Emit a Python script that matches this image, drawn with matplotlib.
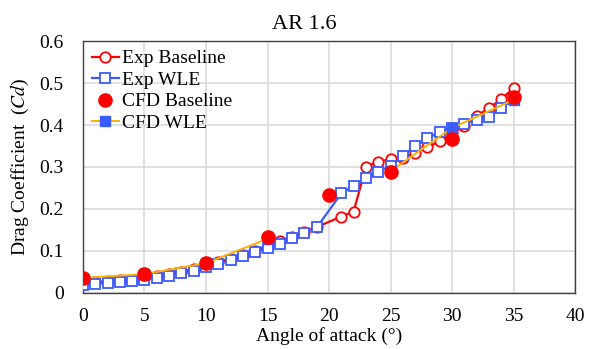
import numpy as np
import matplotlib
matplotlib.use('Agg')
import matplotlib.pyplot as plt
from matplotlib.ticker import FuncFormatter

plt.rcParams['font.family'] = 'Liberation Serif'
plt.rcParams['mathtext.fontset'] = 'stix'

# experimental data (no point at 20 deg)
aoa_exp = [0, 1, 2, 3, 4, 5, 6, 7, 8, 9, 10, 11, 12, 13, 14, 15, 16, 17, 18, 19,
           21, 22, 23, 24, 25, 26, 27, 28, 29, 30, 31, 32, 33, 34, 35]
cd_exp_base = [0.025, 0.026, 0.028, 0.030, 0.032, 0.035, 0.040, 0.046, 0.051, 0.057,
               0.066, 0.074, 0.082, 0.091, 0.101, 0.113, 0.124, 0.134, 0.146, 0.157,
               0.182, 0.194, 0.300, 0.313, 0.318, 0.322, 0.333, 0.347, 0.361, 0.380,
               0.397, 0.422, 0.440, 0.462, 0.487]
cd_exp_wle = [0.020, 0.022, 0.024, 0.026, 0.028, 0.031, 0.036, 0.041, 0.047, 0.053,
              0.061, 0.070, 0.078, 0.087, 0.098, 0.106, 0.117, 0.130, 0.143, 0.156,
              0.237, 0.255, 0.273, 0.289, 0.303, 0.326, 0.350, 0.368, 0.384, 0.394,
              0.403, 0.413, 0.419, 0.440, 0.461]

# CFD data
aoa_cfd = [0, 5, 10, 15, 20, 25, 30, 35]
cd_cfd_base = [0.036, 0.045, 0.071, 0.134, 0.233, 0.287, 0.366, 0.467]
cd_cfd_wle = [0.036, 0.045, 0.071, 0.129, np.nan, 0.290, 0.393, 0.460]

fig = plt.figure(figsize=(5.91, 3.49), dpi=100)
ax = fig.add_axes([0.1404, 0.1605, 0.8326, 0.722])

ax.plot(aoa_exp, cd_exp_base, color='#ff0000', lw=1.6, marker='o', ms=7.5,
        mfc='white', mec='#ff0000', mew=1.3, label='Exp Baseline', zorder=3)
ax.plot(aoa_exp, cd_exp_wle, color='#3b5bfa', lw=1.6, marker='s', ms=7,
        mfc='white', mec='#3b5bfa', mew=1.3, label='Exp WLE', zorder=4)
ax.plot(aoa_cfd, cd_cfd_wle, color='#ffb000', lw=1.4, marker='s', ms=7,
        mfc='#3b5bfa', mec='#3b5bfa', label='CFD WLE', zorder=5)
ax.plot(aoa_cfd, cd_cfd_base, ls='none', marker='o', ms=9.5,
        color='#ff0000', label='CFD Baseline', zorder=6)

ax.set_xlim(0, 40)
ax.set_ylim(0, 0.6)
ax.set_xticks(np.arange(0, 41, 5))
ax.set_yticks(np.arange(0, 0.61, 0.1))
ax.yaxis.set_major_formatter(FuncFormatter(lambda v, p: '0' if abs(v) < 1e-9 else '%.1f' % v))
ax.grid(True, color='#d9d9d9', lw=1.1)
ax.set_axisbelow(True)
ax.tick_params(axis='x', length=0, labelsize=14, pad=11)
ax.tick_params(axis='y', length=0, labelsize=14, pad=14)
for s in ax.spines.values():
    s.set_color('#404040')
    s.set_linewidth(1.0)

ax.set_title('AR 1.6', fontsize=16, pad=9, x=0.45)
ax.set_xlabel('Angle of attack (°)', fontsize=14, labelpad=1)
ax.set_ylabel('Drag Coefficient  ($\\mathit{Cd}$)', fontsize=14, labelpad=6)

h, l = ax.get_legend_handles_labels()
order = [0, 1, 3, 2]
ax.legend([h[i] for i in order], [l[i] for i in order], loc='upper left',
          frameon=False, fontsize=14, handlelength=1.4, handletextpad=0.15,
          labelspacing=0.2, borderaxespad=0.15, borderpad=0.3)

fig.savefig('out.png', dpi=100)
